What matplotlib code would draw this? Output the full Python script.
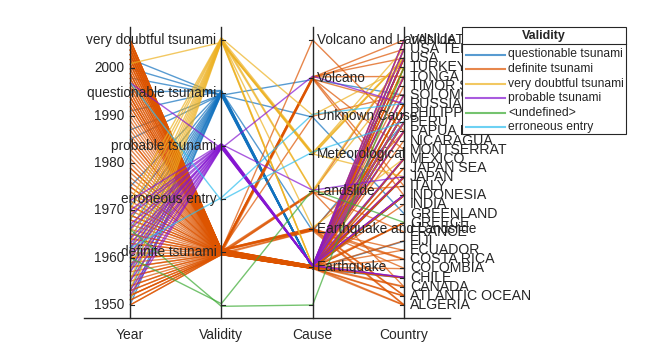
import numpy as np
import matplotlib
matplotlib.use("Agg")
import matplotlib.pyplot as plt
from matplotlib.lines import Line2D
from matplotlib.patches import Rectangle

plt.rcParams['font.family'] = ['Liberation Sans', 'DejaVu Sans']

# ---------------- data ----------------
coord_names = ["Year", "Validity", "Cause", "Country"]
year_ticks = [1950, 1960, 1970, 1980, 1990, 2000]
validity_levels = ["<undefined>", "definite tsunami", "erroneous entry",
                   "probable tsunami", "questionable tsunami", "very doubtful tsunami"]
cause_levels = ["<undefined>", "Earthquake", "Earthquake and Landslide", "Landslide",
                "Meteorological", "Unknown Cause", "Volcano", "Volcano and Landslide"]
cause_codes = {"NA": "<undefined>", "EQ": "Earthquake", "EL": "Earthquake and Landslide",
               "LS": "Landslide", "MT": "Meteorological", "UN": "Unknown Cause",
               "VO": "Volcano", "VL": "Volcano and Landslide"}
country_levels = ["ALGERIA", "ATLANTIC OCEAN", "CANADA", "CHILE", "COLOMBIA", "COSTA RICA",
                  "ECUADOR", "FIJI", "FRANCE", "GREECE", "GREENLAND", "INDIA", "INDONESIA",
                  "ITALY", "JAPAN", "JAPAN SEA", "MEXICO", "MONTSERRAT", "NICARAGUA",
                  "PAPUA NEW GUINEA", "PERU", "PHILIPPINES", "RUSSIA", "SOLOMON ISLANDS",
                  "TIMOR SEA", "TONGA", "TURKEY", "USA", "USA TERRITORY", "VANUATU"]

legend_order = ["questionable tsunami", "definite tsunami", "very doubtful tsunami",
                "probable tsunami", "<undefined>", "erroneous entry"]
group_colors = ["#1171BE", "#DD5400", "#EDB120", "#8516D1", "#3BAA32", "#2FBEEF"]

# definite tsunami
definite_years = [1950, 1950, 1951, 1951, 1952, 1952, 1952, 1953, 1953, 1954, 1954, 1955, 1956, 1956,
                  1957, 1958, 1958, 1959, 1960, 1960, 1960, 1961, 1962, 1963, 1963, 1964, 1964, 1965,
                  1965, 1966, 1967, 1968, 1968, 1969, 1969, 1970, 1971, 1971, 1972, 1973, 1974, 1975,
                  1975, 1976, 1977, 1978, 1979, 1979, 1980, 1981, 1982, 1983, 1984, 1985, 1985, 1986,
                  1987, 1988, 1989, 1990, 1991, 1992, 1992, 1993, 1993, 1994, 1994, 1994, 1995, 1995,
                  1996, 1996, 1997, 1998, 1998, 1999, 1999, 2000, 2000, 2001, 2001, 2002, 2002, 2003,
                  2003, 2003, 2004, 2004, 2004, 2005, 2005, 2005, 2006, 2006, 2006, 2006, 2005, 2004,
                  2002, 1997, 2003, 2001, 1999, 2005, 2006, 2004, 2003, 2002]
definite_causes = ["EQ", "EQ", "EQ", "EQ", "EQ", "EQ", "EQ", "EQ", "EQ", "EL", "EQ", "EQ", "EQ", "VO",
                   "EQ", "EQ", "LS", "EQ", "EQ", "EQ", "EQ", "EQ", "EQ", "EQ", "LS", "EQ", "EQ", "EQ",
                   "EQ", "EQ", "EL", "EQ", "EQ", "EQ", "EQ", "EQ", "EQ", "EQ", "EQ", "EQ", "EQ", "EQ",
                   "EQ", "EQ", "EQ", "EQ", "EQ", "LS", "EQ", "EQ", "EQ", "EQ", "EQ", "EQ", "EQ", "EQ",
                   "EQ", "VO", "EQ", "EQ", "EQ", "EQ", "EQ", "EQ", "EQ", "EQ", "EQ", "LS", "EQ", "EQ",
                   "EQ", "EQ", "VO", "EL", "EQ", "EQ", "EQ", "EQ", "VO", "EQ", "EL", "VO", "EQ", "EQ",
                   "VL", "EL", "EQ", "EQ", "VO", "EQ", "EQ", "EL", "EQ", "EQ", "EQ", "UN", "EQ", "EQ",
                   "EQ", "EL", "EL", "EL", "VO", "VO", "EQ", "EQ", "EQ", "EQ"]
definite_countries = ["INDONESIA", "ALGERIA", "JAPAN", "ATLANTIC OCEAN", "RUSSIA", "JAPAN", "USA",
                      "FIJI", "TURKEY", "ALGERIA", "GREECE", "PHILIPPINES", "GREECE", "RUSSIA",
                      "USA", "USA", "USA", "RUSSIA", "CHILE", "PERU", "JAPAN", "JAPAN", "MEXICO",
                      "SOLOMON ISLANDS", "ITALY", "USA", "JAPAN", "INDONESIA", "USA TERRITORY",
                      "PERU", "COSTA RICA", "JAPAN", "INDONESIA", "ATLANTIC OCEAN", "RUSSIA",
                      "PAPUA NEW GUINEA", "PAPUA NEW GUINEA", "CHILE", "PHILIPPINES", "JAPAN",
                      "PERU", "USA", "PHILIPPINES", "PHILIPPINES", "INDONESIA", "MEXICO",
                      "COLOMBIA", "FRANCE", "ALGERIA", "TONGA", "TONGA", "JAPAN SEA", "JAPAN",
                      "CHILE", "MEXICO", "USA", "CANADA", "INDONESIA", "USA", "PHILIPPINES",
                      "COSTA RICA", "NICARAGUA", "INDONESIA", "JAPAN", "JAPAN SEA", "INDONESIA",
                      "PHILIPPINES", "CANADA", "MEXICO", "GREECE", "PERU", "INDONESIA",
                      "MONTSERRAT", "PAPUA NEW GUINEA", "TIMOR SEA", "TURKEY", "VANUATU",
                      "PAPUA NEW GUINEA", "USA TERRITORY", "PERU", "ECUADOR", "ITALY",
                      "SOLOMON ISLANDS", "JAPAN", "PAPUA NEW GUINEA", "ALGERIA", "INDONESIA",
                      "INDIA", "VANUATU", "INDONESIA", "USA", "ATLANTIC OCEAN", "TONGA",
                      "INDONESIA", "RUSSIA", "SOLOMON ISLANDS", "ECUADOR", "CHILE", "CANADA",
                      "COLOMBIA", "COSTA RICA", "ATLANTIC OCEAN", "TONGA", "USA", "VANUATU",
                      "USA TERRITORY", "TURKEY", "PHILIPPINES"]

# questionable tsunami
questionable_years = [2002, 2000, 1998, 1985, 1987, 1950, 1951, 1953, 1955, 1957, 1958, 1960,
                      1962, 1964, 1966, 1968, 1971, 1975, 1991, 1995]
questionable_causes = ["EQ", "VO", "UN", "EQ", "EQ", "EQ", "EQ", "EQ", "EQ", "EQ", "EQ", "EQ",
                       "EQ", "EQ", "EQ", "EQ", "EL", "EQ", "EQ", "EQ"]
questionable_countries = ["JAPAN", "SOLOMON ISLANDS", "GREENLAND", "USA", "INDONESIA",
                          "PHILIPPINES", "JAPAN", "PERU", "MEXICO", "USA", "CHILE",
                          "USA TERRITORY", "INDONESIA", "TONGA", "PHILIPPINES", "RUSSIA",
                          "PERU", "JAPAN", "SOLOMON ISLANDS", "FIJI"]

# very doubtful tsunami
doubtful_years = [2001, 1951, 1953, 1955, 1957, 1959, 1961, 1963, 1965, 1968, 1970, 1972]
doubtful_causes = ["MT", "MT", "MT", "MT", "EQ", "EQ", "LS", "EL", "MT", "EQ", "UN", "LS"]
doubtful_countries = ["USA", "USA", "JAPAN", "USA TERRITORY", "PERU", "PHILIPPINES", "TONGA",
                      "MEXICO", "USA", "INDONESIA", "TURKEY", "USA"]

# probable tsunami
probable_years = [1997, 1952, 1953, 1955, 1957, 1958, 1960, 1961, 1963, 1964, 1966, 1967,
                  1969, 1970, 1972, 1962]
probable_causes = ["VO", "EQ", "EQ", "EQ", "EQ", "EQ", "EQ", "EQ", "EQ", "EQ", "EQ", "EQ",
                   "EQ", "LS", "EQ", "EQ"]
probable_countries = ["RUSSIA", "CHILE", "CHILE", "INDONESIA", "VANUATU", "USA", "PERU",
                      "JAPAN", "PHILIPPINES", "TONGA", "SOLOMON ISLANDS", "INDONESIA",
                      "MEXICO", "JAPAN", "PAPUA NEW GUINEA", "USA TERRITORY"]

# <undefined>
undefined_years = [1966, 1960]
undefined_causes = ["NA", "LS"]
undefined_countries = ["TURKEY", "GREECE"]

# erroneous entry
erroneous_years = [1997, 1962]
erroneous_causes = ["MT", "UN"]
erroneous_countries = ["PERU", "RUSSIA"]

groups = {
    "questionable tsunami": (questionable_years, questionable_causes, questionable_countries),
    "definite tsunami": (definite_years, definite_causes, definite_countries),
    "very doubtful tsunami": (doubtful_years, doubtful_causes, doubtful_countries),
    "probable tsunami": (probable_years, probable_causes, probable_countries),
    "<undefined>": (undefined_years, undefined_causes, undefined_countries),
    "erroneous entry": (erroneous_years, erroneous_causes, erroneous_countries),
}

# ---------------- build rows ----------------
rows = []
for g in legend_order:
    ys, cs, ct = groups[g]
    for y, c, k in zip(ys, cs, ct):
        rows.append((g, y, cause_codes[c], k))

ymin, ymax = min(r[1] for r in rows), max(r[1] for r in rows)
nV, nC, nK = len(validity_levels), len(cause_levels), len(country_levels)
jit = 0.1


def cat_positions(values, levels):
    n = len(levels)
    base = np.array([levels.index(v) for v in values], dtype=float)
    out = base.copy()
    for i in range(n):
        idx = np.where(base == i)[0]
        m = len(idx)
        if m > 1:
            offs = ((np.arange(m) + 0.5) / m - 0.5) * jit
            out[idx] = i + offs
    return out / (n - 1)


yv = (np.array([r[1] for r in rows]) - ymin) / (ymax - ymin)
vv = cat_positions([r[0] for r in rows], validity_levels)
cv = cat_positions([r[2] for r in rows], cause_levels)
kv = cat_positions([r[3] for r in rows], country_levels)

# ---------------- figure ----------------
W, H = 648, 360
fig = plt.figure(figsize=(W / 100, H / 100), dpi=100)
ax_l, ax_r, ax_t, ax_b = 84.4, 449.6, 26.75, 318.25
ax = fig.add_axes([ax_l / W, 1 - ax_b / H, (ax_r - ax_l) / W, (ax_b - ax_t) / H])
ax.set_xlim(0.5, 4.5)
ax.set_ylim(-0.05, 1.05)
for s in ["left", "right", "top"]:
    ax.spines[s].set_visible(False)
ax.spines["bottom"].set_linewidth(1.0)
ax.spines["bottom"].set_color("#262626")
ax.set_yticks([])
ax.set_xticks([1, 2, 3, 4])
ax.set_xticklabels(coord_names, fontsize=10, color="#262626")
ax.tick_params(axis="x", length=0, pad=7)

xs = [1, 2, 3, 4]
color_of = dict(zip(legend_order, group_colors))
for i, r in enumerate(rows):
    ax.plot(xs, [yv[i], vv[i], cv[i], kv[i]], color=color_of[r[0]], lw=1.0,
            alpha=0.7, solid_capstyle="butt", zorder=2)

# coordinate rulers
for x in xs:
    ax.plot([x, x], [-0.05, 1.05], color="#262626", lw=1.0, zorder=3, clip_on=False)

px = 1 / 91.3  # data units per pixel (x)
tick_len = 4 * px
fs = 9.8
tcol = "#262626"

# Year
for t in year_ticks:
    y = (t - ymin) / (ymax - ymin)
    ax.plot([1, 1 + tick_len], [y, y], color=tcol, lw=0.8, zorder=3)
    ax.text(1 - 6 * px, y, str(t), ha="right", va="center", fontsize=fs, color=tcol, zorder=4)
# Validity
for i, lab in enumerate(validity_levels):
    y = i / (nV - 1)
    ax.plot([2, 2 + tick_len], [y, y], color=tcol, lw=0.8, zorder=3)
    if lab != "<undefined>":
        ax.text(2 - 5 * px, y, lab, ha="right", va="center", fontsize=fs, color=tcol, zorder=4)
# Cause
for i, lab in enumerate(cause_levels):
    y = i / (nC - 1)
    ax.plot([3 - tick_len, 3], [y, y], color=tcol, lw=0.8, zorder=3)
    if lab != "<undefined>":
        ax.text(3 + 4 * px, y, lab, ha="left", va="center", fontsize=fs, color=tcol,
                zorder=4, clip_on=False)
# Country
for i, lab in enumerate(country_levels):
    y = i / (nK - 1)
    ax.plot([4 - tick_len, 4], [y, y], color=tcol, lw=0.8, zorder=3)
    ax.text(4 + 6 * px, y, lab, ha="left", va="center", fontsize=fs + 0.4, color=tcol,
            zorder=4, clip_on=False)

# ---------------- legend (manual) ----------------
def fx(p):
    return p / W


def fy(p):
    return 1 - p / H


L, R, T, B = 462, 626, 27, 134
fig.add_artist(Rectangle((fx(L), fy(B)), fx(R) - fx(L), fy(T) - fy(B),
                         transform=fig.transFigure, facecolor="white",
                         edgecolor="#262626", lw=0.8, zorder=10))
fig.text(fx((L + R) / 2), fy(36), "Validity", ha="center", va="center",
         fontsize=9, fontweight="bold", color=tcol, zorder=11)
fig.add_artist(Line2D([fx(L), fx(R)], [fy(44), fy(44)], transform=fig.transFigure,
                      color="#262626", lw=0.8, zorder=11))
for i, (lab, col) in enumerate(zip(legend_order, group_colors)):
    yy = 54.5 + 14.5 * i
    fig.add_artist(Line2D([fx(466), fx(505)], [fy(yy), fy(yy)], transform=fig.transFigure,
                          color=col, lw=1.5, alpha=0.7, zorder=11))
    fig.text(fx(508), fy(yy), lab, ha="left", va="center", fontsize=8.7,
             color=tcol, zorder=11)

fig.savefig("out.png", dpi=100, facecolor="white")
